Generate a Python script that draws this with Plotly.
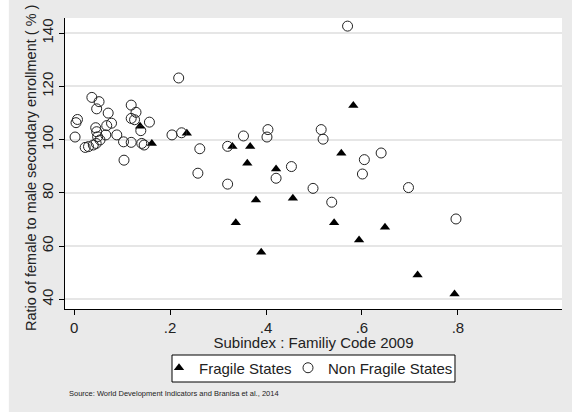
import plotly.graph_objects as go

# Fragile states: subindex (family code 2009) vs female/male secondary enrollment ratio
fragile_x = [0.1375, 0.162, 0.235, 0.330, 0.367, 0.361, 0.421, 0.582, 0.557,
             0.379, 0.456, 0.337, 0.390, 0.542, 0.594, 0.648, 0.716, 0.793]
fragile_y = [105.1, 98.6, 102.4, 97.4, 97.4, 91.1, 89.0, 112.9, 94.9,
             77.3, 78.0, 68.8, 57.7, 68.8, 62.3, 67.1, 49.1, 42.0]

# Non fragile states
nonfragile_x = [0.002, 0.004, 0.007, 0.023, 0.030, 0.037, 0.040, 0.045, 0.046, 0.047,
                0.047, 0.049, 0.052, 0.054, 0.066, 0.068, 0.071, 0.078, 0.089, 0.103,
                0.104, 0.119, 0.119, 0.119, 0.126, 0.129, 0.139, 0.141, 0.146, 0.157,
                0.204, 0.218, 0.224, 0.262, 0.258, 0.320, 0.320, 0.353, 0.404, 0.402,
                0.421, 0.453, 0.498, 0.515, 0.519, 0.537, 0.570, 0.605, 0.601, 0.640,
                0.697, 0.796]
nonfragile_y = [101.0, 106.4, 107.6, 97.1, 97.4, 115.9, 98.0, 104.5, 98.6, 111.6,
                103.0, 101.1, 114.3, 99.9, 101.8, 105.3, 110.0, 106.2, 101.8, 99.2,
                92.3, 113.0, 108.0, 99.0, 107.5, 110.3, 103.4, 98.6, 98.0, 106.6,
                101.8, 123.2, 102.6, 96.6, 87.4, 97.5, 83.3, 101.4, 103.8, 101.0,
                85.5, 89.9, 81.7, 103.8, 100.2, 76.5, 142.7, 92.5, 87.1, 95.0,
                82.0, 70.2]

x_ticks = [0, 0.2, 0.4, 0.6, 0.8]
x_ticklabels = ["0", ".2", ".4", ".6", ".8"]
y_ticks = [40, 60, 80, 100, 120, 140]

FONT = "Arial, Liberation Sans, sans-serif"
BG = "#eaeaea"
TXT = "#222222"

fig = go.Figure()
fig.add_trace(go.Scatter(
   x=fragile_x, y=fragile_y, mode="markers", name="Fragile States", legend="legend",
   marker=dict(symbol="triangle-up", size=9, color="black", line=dict(width=0))
))
fig.add_trace(go.Scatter(
   x=nonfragile_x, y=nonfragile_y, mode="markers", name="Non Fragile States", legend="legend2",
   marker=dict(symbol="circle-open", size=10, color=TXT, line=dict(width=1))
))

fig.update_xaxes(
   range=[-0.019, 1.017], tickvals=x_ticks, ticktext=x_ticklabels, automargin=False,
   showgrid=False, zeroline=False, showline=True, linecolor="black", linewidth=1,
   ticks="outside", ticklen=5, tickcolor="black",
   tickfont=dict(size=15, color=TXT),
   title=dict(text="Subindex : Familiy Code 2009", font=dict(size=15, color=TXT), standoff=0)
)
fig.update_yaxes(
   range=[36.35, 145.75], tickvals=y_ticks, tickangle=-90, automargin=False,
   showgrid=True, gridcolor="#e6e6e6", gridwidth=1.5, zeroline=False,
   showline=True, linecolor="black", linewidth=1,
   ticks="outside", ticklen=5, tickcolor="black",
   tickfont=dict(size=15, color=TXT)
)

legend_style = dict(
   orientation="h", xref="container", yref="container", y=0.1068,
   xanchor="left", yanchor="middle", bgcolor="rgba(0,0,0,0)", borderwidth=0,
   font=dict(size=15, color=TXT), itemwidth=30
)

fig.update_layout(
   width=572,
   height=412,
   margin=dict(l=65, r=10, t=18, b=103),
   paper_bgcolor=BG,
   plot_bgcolor="white",
   font=dict(family=FONT, color=TXT),
   showlegend=True,
   legend=dict(x=0.278, **legend_style),
   legend2=dict(x=0.5035, **legend_style),
   annotations=[
      # y axis title (as annotation so it can sit a bit low like the original)
      dict(text="Ratio of female to male secondary enrollment ( % )",
           xref="paper", yref="paper", x=-0.0684, y=0.4845, textangle=-90,
           xanchor="center", yanchor="middle", showarrow=False,
           font=dict(size=14.5, color=TXT)),
      dict(text="Source: World Development Indicators and Branisa et al., 2014",
           xref="paper", yref="paper", x=0.004, y=-0.2887, xanchor="left", yanchor="middle",
           showarrow=False, font=dict(size=7.5, color=TXT)),
   ],
   shapes=[
      # white strip at the left edge of the picture
      dict(type="rect", xref="paper", yref="paper", x0=-0.14, x1=-0.113, y0=-0.4, y1=1.1,
           fillcolor="white", line=dict(width=0), layer="below"),
      # legend frame
      dict(type="rect", xref="paper", yref="paper", x0=0.2153, x1=0.7847, y0=-0.2509, y1=-0.1581,
           fillcolor="white", line=dict(width=1, color="black"), layer="below"),
   ]
)

fig.write_html("out.html", config={"displayModeBar": False},
               post_script="document.body.style.margin='0';")
